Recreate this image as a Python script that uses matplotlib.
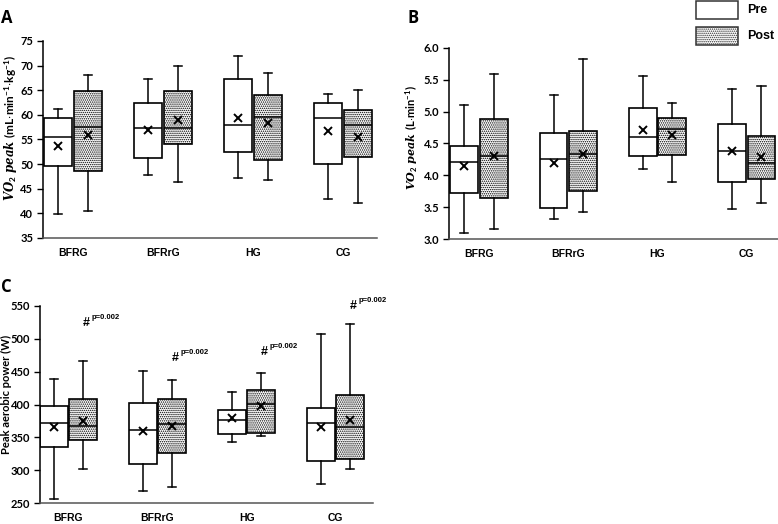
import numpy as np
import matplotlib
matplotlib.use("Agg")
import matplotlib.pyplot as plt
from matplotlib.patches import Rectangle

plt.rcParams["mathtext.fontset"] = "custom"
plt.rcParams["mathtext.bf"] = "Lato:bold"
plt.rcParams["mathtext.bfit"] = "DejaVu Serif:italic:bold"
plt.rcParams["hatch.linewidth"] = 0.7

groups = ["BFRG", "BFRrG", "HG", "CG"]

# each row: whisker low, Q1, median, Q3, whisker high, mean
a_pre = [(39.9, 49.6, 55.6, 59.3, 61.1, 53.75),
         (47.7, 51.25, 57.4, 62.4, 67.2, 56.9),
         (47.1, 52.4, 57.9, 67.2, 72.0, 59.3),
         (43.0, 50.1, 59.3, 62.5, 64.3, 56.8)]
a_post = [(40.5, 48.6, 57.5, 64.9, 68.05, 55.85),
          (46.4, 54.0, 57.3, 64.8, 69.9, 58.9),
          (46.7, 50.9, 59.6, 64.1, 68.6, 58.3),
          (42.1, 51.5, 57.9, 61.0, 65.1, 55.6)]

b_pre = [(3.10, 3.73, 4.21, 4.46, 5.10, 4.14),
         (3.32, 3.48, 4.25, 4.66, 5.26, 4.20),
         (4.10, 4.31, 4.60, 5.05, 5.56, 4.71),
         (3.47, 3.89, 4.39, 4.81, 5.35, 4.38)]
b_post = [(3.15, 3.65, 4.30, 4.89, 5.59, 4.30),
          (3.42, 3.76, 4.34, 4.69, 5.82, 4.34),
          (3.90, 4.32, 4.72, 4.90, 5.14, 4.64),
          (3.57, 3.94, 4.19, 4.62, 5.40, 4.29)]

c_pre = [(255.5, 335.0, 371.3, 397.7, 438.7, 365.3),
         (267.6, 309.6, 361.2, 402.7, 450.3, 359.7),
         (343.0, 355.7, 375.9, 391.6, 418.9, 379.4),
         (279.3, 313.2, 371.3, 395.1, 507.0, 365.8)]
c_post = [(301.5, 346.0, 366.8, 407.8, 466.5, 375.4),
          (274.2, 326.8, 370.3, 407.8, 437.1, 367.8),
          (352.1, 357.2, 401.2, 422.0, 447.3, 397.2),
          (301.5, 317.2, 366.3, 414.4, 523.2, 377.0)]

c_sig_y = [523.7, 470.5, 479.6, 549.5]
c_sig_p = ["p=0.002", "p=0.002", "p=0.002", "p=0.002"]

TICK_FONT = "Lato"
CAT_FONT = "Liberation Sans"
OFF = 0.165
W = 0.31
DOTS = "........"


def to_stats(rows):
    return [dict(whislo=r[0], q1=r[1], med=r[2], q3=r[3], whishi=r[4], mean=r[5],
                 fliers=[])
            for r in rows]


def draw_panel(ax, pre, post, ylim, yticks, fmt, xlim):
    x = np.arange(len(groups))
    common = dict(widths=W, capwidths=0.09, patch_artist=True, showmeans=True,
                  showfliers=False,
                  whiskerprops=dict(color="black", lw=1.1),
                  capprops=dict(color="black", lw=1.1),
                  medianprops=dict(color="black", lw=1.1),
                  meanprops=dict(marker="x", markeredgecolor="black",
                                 markersize=5.5, markeredgewidth=1.4))
    ax.bxp(to_stats(pre), positions=x - OFF,
           boxprops=dict(facecolor="white", edgecolor="black", lw=1.2), **common)
    ax.bxp(to_stats(post), positions=x + OFF,
           boxprops=dict(facecolor="white", edgecolor="black", lw=1.2,
                         hatch=DOTS), **common)
    ax.set_xlim(*xlim)
    ax.set_ylim(*ylim)
    ax.set_yticks(yticks)
    ax.set_yticklabels([fmt.format(v) for v in yticks],
                       fontfamily=TICK_FONT, fontweight="bold", fontsize=8)
    ax.set_xticks(x)
    ax.set_xticklabels(groups, fontfamily=CAT_FONT, fontweight="bold", fontsize=7.5)
    ax.tick_params(axis="x", length=0, pad=7)
    ax.tick_params(axis="y", length=4.5, width=1, pad=2.5)
    ax.spines[["top", "right"]].set_visible(False)
    ax.spines["left"].set_linewidth(1.1)
    ax.spines["bottom"].set_linewidth(1.1)
    ax.spines["bottom"].set_color("#555555")


fig = plt.figure(figsize=(7.78, 5.24), dpi=100)
FW, FH = 778, 524


def add_axes(x0, x1, ytop, ybot):
    return fig.add_axes([x0 / FW, 1 - ybot / FH, (x1 - x0) / FW, (ybot - ytop) / FH])


ax_a = add_axes(43, 377, 41, 238)
ax_b = add_axes(449, 778, 48, 239)
ax_c = add_axes(40, 373, 306, 503)

draw_panel(ax_a, a_pre, a_post, (35, 75), np.arange(35, 76, 5), "{:.0f}", (-0.333, 3.378))
draw_panel(ax_b, b_pre, b_post, (3.0, 6.0), np.arange(3.0, 6.01, 0.5), "{:.1f}", (-0.336, 3.35))
draw_panel(ax_c, c_pre, c_post, (250, 550), np.arange(250, 551, 50), "{:.0f}", (-0.32, 3.42))

ax_a.set_ylabel(r"$\dot{\mathbfit{V}}\mathbfit{O}_{\mathbf{2}}\ \mathbfit{peak}\ "
                r"\mathbf{(mL{\cdot}min^{-1}{\cdot}kg^{-1})}$", fontsize=8.5)
ax_b.set_ylabel(r"$\mathbfit{VO}_{\mathbf{2}}\ \mathbfit{peak}\ "
                r"\mathbf{(L{\cdot}min^{-1})}$", fontsize=8)
ax_c.set_ylabel("Peak aerobic power (W)", fontfamily=TICK_FONT, fontweight="bold",
                fontsize=8)
for ax, (lx, ly) in [(ax_a, (-0.099, 0.56)), (ax_b, (-0.112, 0.53)), (ax_c, (-0.102, 0.553))]:
    ax.yaxis.label.set_verticalalignment("center")
    ax.yaxis.set_label_coords(lx, ly)

# significance marks over post boxes
for i, (yv, ptxt) in enumerate(zip(c_sig_y, c_sig_p)):
    ax_c.text(i + OFF + 0.03, yv, "#", ha="center", va="center",
              fontfamily=CAT_FONT, fontweight="bold", fontsize=9)
    ax_c.annotate(ptxt, (i + OFF + 0.03, yv), xytext=(4, 1.5), textcoords="offset points",
                  ha="left", va="bottom", fontfamily=CAT_FONT, fontweight="bold",
                  fontsize=5.5)

# panel letters
for letter, (px, py) in zip("ABC", [(7, 18), (413, 18), (6, 287)]):
    fig.text(px / FW, 1 - py / FH, letter, ha="center", va="center",
             fontfamily="Open Sans", fontweight="bold", fontsize=12)

# legend drawn by hand in the top-right corner
for label, ytop, hatch in [("Pre", 1, None), ("Post", 27, DOTS)]:
    fig.patches.append(Rectangle((696 / FW, 1 - (ytop + 18) / FH), 42 / FW, 18 / FH,
                                 transform=fig.transFigure, facecolor="white",
                                 edgecolor="#333333", lw=1.1, hatch=hatch))
    fig.text(747 / FW, 1 - (ytop + 9) / FH, label, ha="left", va="center",
             fontfamily=CAT_FONT, fontweight="bold", fontsize=9)

fig.savefig("out.png", dpi=100)
